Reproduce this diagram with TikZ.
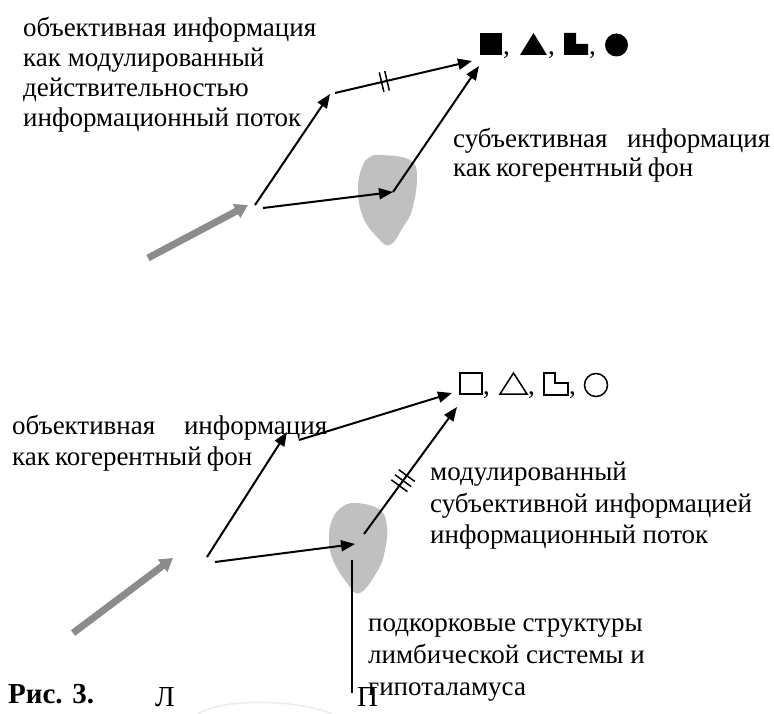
\documentclass[tikz,border=0pt]{standalone}
\usepackage{fontspec}
\setmainfont{Liberation Serif}
\usetikzlibrary{arrows.meta,calc}
\definecolor{blobgray}{RGB}{192,192,192}
\definecolor{arrowgray}{RGB}{140,140,140}
\begin{document}
\begin{tikzpicture}[x=1pt,y=-1pt,
  txt/.style={anchor=base west,inner sep=0pt,font=\fontsize{27}{31}\selectfont},
  bigtxt/.style={anchor=base west,inner sep=0pt,font=\fontsize{29}{33}\selectfont},
  flow/.style={line width=2pt,-{Triangle[length=14pt,width=11pt]}},
  inflow/.style={line width=7pt,arrowgray,-{Triangle[length=13pt,width=15pt]}},
  blob/.style={fill=blobgray,draw=none},
  tickmark/.style={line width=1.5pt},
  stem/.style={line width=1.8pt},
  outlined/.style={line width=1.5pt,line join=miter},
]
\useasboundingbox (0,0) rectangle (774,714);

% ---------- upper diagram ----------
\fill[blob] plot[smooth cycle,tension=0.7] coordinates {(382,155) (410,160) (417,177) (412,210) (403,227) (390,245) (377,237) (363,217) (358,190) (362,167) (370,157)};

\coordinate (t-in-tail) at (148,258);
\coordinate (t-in-tip) at (248,205);
\coordinate (t-split1) at (255,205);
\coordinate (t-split2) at (263,208);
\coordinate (t-upper) at (330,94);
\coordinate (t-upper2) at (335,93);
\coordinate (t-blob) at (393,192);
\coordinate (t-target1) at (472,61);
\coordinate (t-target2) at (479,66);

\draw[inflow] (t-in-tail) -- (t-in-tip);
\draw[flow] (t-split1) -- (t-upper);
\draw[flow] (t-split2) -- (t-blob);
\draw[flow] (t-upper2) -- (t-target1);
\draw[flow] (t-blob) -- (t-target2);
\foreach \t [count=\i] in {0.34,0.38}{
  \coordinate (ttk\i) at ($(t-upper2)!\t!(t-target1)$);
  \draw[tickmark] ($(ttk\i)!10pt!90:(t-target1)$) -- ($(ttk\i)!10pt!-90:(t-target1)$);
}

% filled shapes
\fill (480,33) rectangle (502,55);
\node[txt] (tc1) at (503,55) {,};
\fill (520,55) -- (547,55) -- (533.5,33) -- cycle;
\node[txt] (tc2) at (548,55) {,};
\fill (564,33) -- (576,33) -- (576,44) -- (588,44) -- (588,55) -- (564,55) -- cycle;
\node[txt] (tc3) at (589,55) {,};
\fill (616.5,45) circle[radius=11.5pt];

% texts
\node[txt] (tl1) at (23,37) {объективная информация};
\node[txt] (tl2) at (23,67) {как модулированный};
\node[txt] (tl3) at (23,97) {действительностью};
\node[txt] (tl4) at (23,127) {информационный поток};
\node[txt] (tr1) at (453,148) {\hbox to 317pt{субъективная\hfill информация}};
\node[txt] (tr2) at (453,177) {\hbox to 240pt{как\hfill когерентный\hfill фон}};

% ---------- lower diagram ----------
\fill[blob] plot[smooth cycle,tension=0.7] coordinates {(357,503) (380,510) (387,527) (385,550) (378,570) (360,593) (347,583) (333,560) (329,540) (332,520) (342,507)};

\coordinate (b-in-tail) at (73,633);
\coordinate (b-in-tip) at (173,558);
\coordinate (b-split1) at (207,557);
\coordinate (b-split2) at (215,562);
\coordinate (b-upper) at (287,432);
\coordinate (b-upper2) at (299,440);
\coordinate (b-blobin) at (355,544);
\coordinate (b-blobout) at (364,534);
\coordinate (b-target1) at (452,393);
\coordinate (b-target2) at (457,407);
\coordinate (b-stem-top) at (352,560);
\coordinate (b-stem-bot) at (352,693);

\draw[inflow] (b-in-tail) -- (b-in-tip);
\draw[flow] (b-split1) -- (b-upper);
\draw[flow] (b-split2) -- (b-blobin);
\draw[flow] (b-upper2) -- (b-target1);
\draw[flow] (b-blobout) -- (b-target2);
\draw[stem] (b-stem-top) -- (b-stem-bot);
\foreach \t [count=\i] in {0.38,0.42,0.46}{
  \coordinate (btk\i) at ($(b-blobout)!\t!(b-target2)$);
  \draw[tickmark] ($(btk\i)!10pt!90:(b-target2)$) -- ($(btk\i)!10pt!-90:(b-target2)$);
}

% outlined shapes
\draw[outlined] (460,373) rectangle (482,394);
\node[txt] (bc1) at (483,394) {,};
\draw[outlined] (500,394) -- (527,394) -- (513.5,373) -- cycle;
\node[txt] (bc2) at (528,394) {,};
\draw[outlined] (544,373) -- (555,373) -- (555,383) -- (568,383) -- (568,395) -- (544,395) -- cycle;
\node[txt] (bc3) at (569,394) {,};
\draw[outlined] (596,385) circle[radius=11.5pt];

% texts
\node[txt] (bl1) at (12,434) {\hbox to 315pt{объективная\hfill информация}};
\node[txt] (bl2) at (12,465) {\hbox to 240pt{как\hfill когерентный\hfill фон}};
\node[txt] (br1) at (430,480) {модулированный};
\node[txt] (br2) at (430,512) {субъективной информацией};
\node[txt] (br3) at (430,543) {информационный поток};
\node[txt] (bs1) at (368,631) {подкорковые структуры};
\node[txt] (bs2) at (368,663) {лимбической системы и};
\node[txt] (bs3) at (368,695) {гипоталамуса};

\node[txt,font=\fontsize{29}{33}\selectfont\bfseries] (cap) at (8,703) {Рис. 3.};
\node[bigtxt] (lblL) at (155,706) {Л};
\node[bigtxt] (lblP) at (357,706) {П};
\draw[gray!15,line width=1.5pt] (198,714) .. controls (225,697) and (300,700) .. (332,714);
\end{tikzpicture}
\end{document}
